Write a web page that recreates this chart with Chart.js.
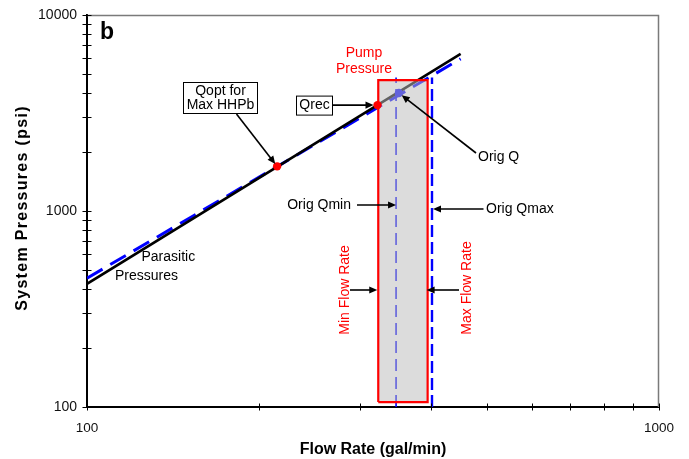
<!DOCTYPE html>
<html>
<head>
<meta charset="utf-8">
<script src="https://cdn.jsdelivr.net/npm/chart.js@4/dist/chart.umd.min.js"></script>
<style>
  html, body { margin: 0; padding: 0; background: #fff; }
  canvas { display: block; }
</style>
</head>
<body>
<canvas id="chart" width="689" height="459"></canvas>
<script>
// ---- Data (flow in gal/min, pressure in psi) ----
const parasiticFlow = [100, 450];
const parasiticPsi = [425, 6340];
const origParasiticFlow = [100, 450];
const origParasiticPsi = [454, 5975];

const qoptFlow = 215, qoptPsi = 1690;       // Qopt for Max HHPb
const qrecFlow = 322, qrecPsi = 3470;       // Qrec
const origQFlow = 351, origQPsi = 4000;     // Orig Q

const minFlowRate = 323, maxFlowRate = 394; // pump window
const pumpPsiRange = [106, 4650];
const origQmin = 347, origQmax = 401;
const origLimitPsiRange = [100, 4800];

const xTickLabels = [100, 1000];
const yTickLabels = [100, 1000, 10000];
const xTickMarks = [100, 200, 300, 400, 500, 600, 700, 800, 900, 1000];
const yTickMarks = [100, 200, 300, 400, 500, 600, 700, 800, 900,
                    1000, 2000, 3000, 4000, 5000, 6000, 7000, 8000, 9000, 10000];

const FONT = "'Liberation Sans', Arial, Helvetica, sans-serif";

const pts = (xs, ys) => xs.map((x, i) => ({ x, y: ys[i] }));

// ---- Drawing helpers ----
function arrow(ctx, x1, y1, x2, y2) {
  const ang = Math.atan2(y2 - y1, x2 - x1);
  const hl = 8, hw = 3.6;
  ctx.save();
  ctx.strokeStyle = '#000';
  ctx.fillStyle = '#000';
  ctx.lineWidth = 1.6;
  ctx.beginPath();
  ctx.moveTo(x1, y1);
  ctx.lineTo(x2 - Math.cos(ang) * hl * 0.8, y2 - Math.sin(ang) * hl * 0.8);
  ctx.stroke();
  ctx.beginPath();
  ctx.moveTo(x2, y2);
  ctx.lineTo(x2 - Math.cos(ang) * hl + Math.sin(ang) * hw, y2 - Math.sin(ang) * hl - Math.cos(ang) * hw);
  ctx.lineTo(x2 - Math.cos(ang) * hl - Math.sin(ang) * hw, y2 - Math.sin(ang) * hl + Math.cos(ang) * hw);
  ctx.closePath();
  ctx.fill();
  ctx.restore();
}

function arrowToPoint(ctx, x1, y1, px, py, gap) {
  const d = Math.hypot(px - x1, py - y1);
  arrow(ctx, x1, y1, px - (px - x1) / d * gap, py - (py - y1) / d * gap);
}

function text(ctx, str, x, y, opts = {}) {
  ctx.save();
  ctx.font = (opts.bold ? 'bold ' : '') + (opts.size || 14) + 'px ' + FONT;
  ctx.fillStyle = opts.color || '#000';
  ctx.textAlign = opts.align || 'left';
  ctx.textBaseline = 'middle';
  ctx.translate(x, y);
  if (opts.rotate) ctx.rotate(opts.rotate);
  ctx.fillText(str, 0, 0);
  ctx.restore();
}

function boxedText(ctx, lines, x0, y0, x1, y1) {
  ctx.save();
  ctx.fillStyle = '#fff';
  ctx.fillRect(x0, y0, x1 - x0, y1 - y0);
  ctx.strokeStyle = '#000';
  ctx.lineWidth = 1;
  ctx.strokeRect(x0 + 0.5, y0 + 0.5, x1 - x0 - 1, y1 - y0 - 1);
  ctx.restore();
  const lh = 14.6;
  const cy = (y0 + y1) / 2 - (lines.length - 1) * lh / 2;
  lines.forEach((l, i) => text(ctx, l, (x0 + x1) / 2, cy + i * lh, { align: 'center' }));
}

// ---- Plugins: frame, crossing tick marks, annotations, rotated axis title ----
const framePlugin = {
  id: 'frame',
  beforeDatasetsDraw(chart) {
    const { ctx, chartArea: a } = chart;
    ctx.save();
    ctx.strokeStyle = '#7a7a7a';
    ctx.lineWidth = 1.5;
    ctx.beginPath();
    ctx.moveTo(a.left, a.top + 0.5);
    ctx.lineTo(a.right - 0.5, a.top + 0.5);
    ctx.lineTo(a.right - 0.5, a.bottom);
    ctx.stroke();
    ctx.restore();
  },
  afterDraw(chart) {
    const { ctx, chartArea: a, scales: { x, y } } = chart;
    ctx.save();
    ctx.strokeStyle = '#000';
    ctx.lineWidth = 1;
    ctx.beginPath();
    xTickMarks.forEach(v => {
      const px = Math.round(x.getPixelForValue(v)) + 0.5;
      ctx.moveTo(px, a.bottom - 3.5);
      ctx.lineTo(px, a.bottom + 3.5);
    });
    yTickMarks.forEach(v => {
      const py = Math.round(y.getPixelForValue(v)) + 0.5;
      ctx.moveTo(a.left - 4.5, py);
      ctx.lineTo(a.left + 4.5, py);
    });
    ctx.stroke();
    ctx.restore();

    // y axis title
    ctx.save();
    ctx.translate(26.5, 208);
    ctx.rotate(-Math.PI / 2);
    ctx.font = 'bold 16px ' + FONT;
    ctx.letterSpacing = '1.3px';
    ctx.fillStyle = '#000';
    ctx.textAlign = 'center';
    ctx.textBaseline = 'alphabetic';
    ctx.fillText('System Pressures (psi)', 0, 0);
    ctx.restore();
  }
};

const annotationPlugin = {
  id: 'notes',
  afterDatasetsDraw(chart) {
    const { ctx, scales: { x, y } } = chart;
    const X = v => x.getPixelForValue(v);
    const Y = v => y.getPixelForValue(v);

    // panel letter
    text(ctx, 'b', 100, 33, { bold: true, size: 23 });

    // Qopt for Max HHPb
    boxedText(ctx, ['Qopt for', 'Max HHPb'], 183, 82, 258, 114);
    arrowToPoint(ctx, 236.5, 114, X(qoptFlow), Y(qoptPsi), 3);

    // Qrec
    const qrx = X(qrecFlow), qry = Y(qrecPsi);
    boxedText(ctx, ['Qrec'], 296, qry - 9.5, 333, qry + 10.5);
    arrow(ctx, 333, qry, qrx - 4, qry);

    // Pump Pressure
    text(ctx, 'Pump', 364, 53, { align: 'center', color: '#ff0000' });
    text(ctx, 'Pressure', 364, 69, { align: 'center', color: '#ff0000' });

    // Orig Q
    text(ctx, 'Orig Q', 478, 157);
    arrowToPoint(ctx, 476, 153, X(origQFlow), Y(origQPsi), 3.5);

    // Orig Qmin / Orig Qmax
    text(ctx, 'Orig Qmin', 351, 205, { align: 'right' });
    arrow(ctx, 357, 205, X(origQmin), 205);
    text(ctx, 'Orig Qmax', 486, 209);
    arrow(ctx, 483.5, 209, X(origQmax) + 1, 209);

    // Min / Max Flow Rate
    text(ctx, 'Min Flow Rate', 345, 290, { align: 'center', color: '#ff0000', rotate: -Math.PI / 2 });
    arrow(ctx, 350, 290, X(minFlowRate) - 1, 290);
    text(ctx, 'Max Flow Rate', 467, 288, { align: 'center', color: '#ff0000', rotate: -Math.PI / 2 });
    arrow(ctx, 459, 290, X(maxFlowRate) - 1, 290);

    // Parasitic Pressures
    text(ctx, 'Parasitic', 141.5, 257);
    text(ctx, 'Pressures', 115, 276);
  }
};

// ---- Chart ----
const lineDefaults = { showLine: true, pointRadius: 0, fill: false, tension: 0 };

new Chart(document.getElementById('chart'), {
  type: 'scatter',
  data: {
    datasets: [
      { // Qrec marker
        data: [{ x: qrecFlow, y: qrecPsi }], order: 0,
        pointRadius: 4.2, pointBackgroundColor: '#ff0000', pointBorderWidth: 0, showLine: false
      },
      { // Qopt marker
        data: [{ x: qoptFlow, y: qoptPsi }], order: 1,
        pointRadius: 4.2, pointBackgroundColor: '#ff0000', pointBorderWidth: 0, showLine: false
      },
      { // pump window outline
        ...lineDefaults, order: 2,
        data: [
          { x: minFlowRate, y: pumpPsiRange[0] }, { x: minFlowRate, y: pumpPsiRange[1] },
          { x: maxFlowRate, y: pumpPsiRange[1] }, { x: maxFlowRate, y: pumpPsiRange[0] },
          { x: minFlowRate, y: pumpPsiRange[0] }
        ],
        borderColor: '#ff0000', borderWidth: 2.2, borderJoinStyle: 'miter'
      },
      { // pump window shading
        ...lineDefaults, order: 3,
        data: [{ x: minFlowRate, y: pumpPsiRange[1] }, { x: maxFlowRate, y: pumpPsiRange[1] }],
        borderWidth: 0, borderColor: 'rgba(0,0,0,0)',
        fill: { value: pumpPsiRange[0] }, backgroundColor: 'rgba(187,187,187,0.52)'
      },
      { // Orig Q marker
        data: [{ x: origQFlow, y: origQPsi }], order: 4,
        pointRadius: 4.2, pointBackgroundColor: '#0000ff', pointBorderWidth: 0, showLine: false
      },
      { // Orig Qmin
        ...lineDefaults, order: 5,
        data: [{ x: origQmin, y: origLimitPsiRange[0] }, { x: origQmin, y: origLimitPsiRange[1] }],
        borderColor: '#0000ff', borderWidth: 1.6, borderDash: [12, 6]
      },
      { // Orig Qmax
        ...lineDefaults, order: 6,
        data: [{ x: origQmax, y: origLimitPsiRange[0] }, { x: origQmax, y: origLimitPsiRange[1] }],
        borderColor: '#0000ff', borderWidth: 2.4, borderDash: [12, 5]
      },
      { // parasitic pressures
        ...lineDefaults, order: 7,
        data: pts(parasiticFlow, parasiticPsi),
        borderColor: '#000000', borderWidth: 2.6
      },
      { // original parasitic pressures
        ...lineDefaults, order: 8,
        data: pts(origParasiticFlow, origParasiticPsi),
        borderColor: '#0000ff', borderWidth: 3, borderDash: [18, 9]
      }
    ]
  },
  options: {
    responsive: false,
    animation: false,
    layout: { padding: { left: 0, top: 15, right: 30, bottom: 0 } },
    plugins: { legend: { display: false }, tooltip: { enabled: false } },
    scales: {
      x: {
        type: 'logarithmic', position: 'bottom', min: 100, max: 1000,
        afterFit: s => { s.height = 52; s.paddingLeft = 0; s.paddingRight = 0; },
        afterBuildTicks: s => { s.ticks = xTickLabels.map(v => ({ value: v })); },
        grid: { display: false, drawTicks: false },
        border: { display: true, color: '#000', width: 2 },
        ticks: {
          callback: v => String(v), padding: 13, maxRotation: 0, autoSkip: false,
          color: '#111', font: { family: FONT, size: 13.5 }
        },
        title: {
          display: true, text: 'Flow Rate (gal/min)', color: '#000',
          padding: { top: 0, bottom: 0 }, font: { family: FONT, size: 16, weight: 'bold' }
        }
      },
      y: {
        type: 'logarithmic', position: 'left', min: 100, max: 10000,
        afterFit: s => { s.width = 87; s.paddingTop = 0; s.paddingBottom = 0; },
        afterBuildTicks: s => { s.ticks = yTickLabels.map(v => ({ value: v })); },
        grid: { display: false, drawTicks: false },
        border: { display: true, color: '#000', width: 2 },
        ticks: {
          callback: v => String(v), padding: 10, autoSkip: false,
          color: '#111', font: { family: FONT, size: 14 }
        }
      }
    }
  },
  plugins: [framePlugin, annotationPlugin]
});
</script>
</body>
</html>
